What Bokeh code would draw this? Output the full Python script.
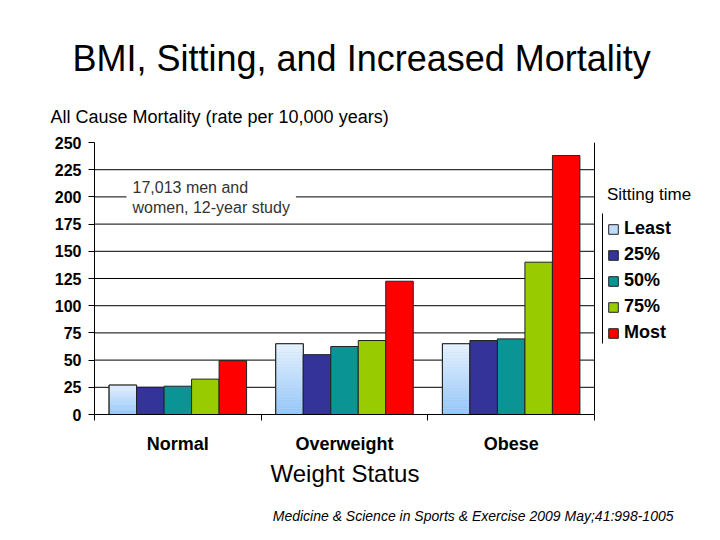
from bokeh.plotting import figure
from bokeh.models import (Range1d, FixedTicker, LinearAxis, Title, Legend, LegendItem,
                          Label, Span, ColumnDataSource)
from bokeh.embed import file_html
from bokeh.resources import INLINE

# ---- data ----
categories = ["Normal", "Overweight", "Obese"]
groups = ["Least", "25%", "50%", "75%", "Most"]
least = [27, 65, 65]
p25 = [25, 55, 68]
p50 = [26, 62.5, 69.5]
p75 = [32.5, 68, 140]
most = [49.5, 122.5, 238]
y_ticks = [0, 25, 50, 75, 100, 125, 150, 175, 200, 225, 250]
grid_ticks = [25, 50, 75, 100, 125, 150, 175, 200, 225]

series = [least, p25, p50, p75, most]
colors = ["#BFDDFB", "#333399", "#0B9494", "#99CC00", "#FF0000"]
grad_top = (0xE6, 0xF1, 0xFD)
grad_bot = (0x94, 0xC6, 0xF8)

FONT = "Liberation Sans"
bar_w = 0.165
ncat = len(categories)
cat_px = 500 / ncat           # pixel width of one category slot
frame_w = 720 - 94            # frame runs to the right edge so the legend fits inside it
y_px = 272 / 250              # pixels per y unit

p = figure(width=720, height=540, x_range=Range1d(0, frame_w / cat_px), y_range=Range1d(0, 250),
           output_backend="svg", toolbar_location=None,
           x_axis_type=None, y_axis_type=None,
           min_border_left=94, min_border_right=0, min_border_top=142, min_border_bottom=126)
p.outline_line_color = None
p.background_fill_color = "white"
p.border_fill_color = "white"

# horizontal gridlines limited to the category area
p.segment(x0=0, x1=ncat, y0=grid_ticks, y1=grid_ticks, line_color="black", line_width=1)
p.add_layout(Span(location=ncat, dimension="height", line_color="black", line_width=1))

# bars
renderers = []
for j, vals in enumerate(series):
    xs = [i + 0.5 + (j - 2) * bar_w for i in range(ncat)]
    src = ColumnDataSource(dict(x=xs, top=vals))
    r = p.vbar(x="x", top="top", bottom=0, width=bar_w, source=src,
               fill_color=colors[j], line_color="#222222", line_width=1)
    renderers.append(r)
    if j == 0:
        # vertical gradient fill for the "Least" series
        n = 24
        for k in range(n):
            t = k / (n - 1)
            c = tuple(int(round(grad_bot[m] + (grad_top[m] - grad_bot[m]) * t)) for m in range(3))
            col = "#%02x%02x%02x" % c
            seg = ColumnDataSource(dict(x=xs,
                                        b=[v * k / n for v in vals],
                                        t=[v * (k + 1) / n for v in vals]))
            p.vbar(x="x", bottom="b", top="t", width=bar_w - 0.004, source=seg,
                   fill_color=col, line_color=None)
        p.vbar(x="x", top="top", bottom=0, width=bar_w, source=src,
               fill_color=None, line_color="#222222", line_width=1)

# left axis
yax = LinearAxis(ticker=FixedTicker(ticks=y_ticks))
yax.major_label_text_font = FONT
yax.major_label_text_font_size = "16px"
yax.major_label_text_font_style = "bold"
yax.major_label_text_color = "black"
yax.major_tick_out = 6
yax.major_tick_in = 0
yax.minor_tick_out = 0
yax.minor_tick_in = 0
yax.major_label_standoff = 7
yax.axis_line_color = "black"
p.add_layout(yax, "left")

# bottom axis: category labels at centres, boundary ticks as minor ticks
cax = LinearAxis(ticker=FixedTicker(ticks=[i + 0.5 for i in range(ncat)],
                                    minor_ticks=list(range(ncat + 1))),
                 major_label_overrides={i + 0.5: c for i, c in enumerate(categories)},
                 bounds=(0, ncat))
cax.axis_line_color = "black"
cax.major_tick_out = 0
cax.major_tick_in = 0
cax.minor_tick_out = 6
cax.minor_tick_in = 0
cax.minor_tick_line_color = "black"
cax.major_label_standoff = 13
cax.major_label_text_font = FONT
cax.major_label_text_font_size = "18px"
cax.major_label_text_font_style = "bold"
cax.major_label_text_color = "black"
p.add_layout(cax, "below")

# x axis title, centred under the bars (left edge at x=270)
xlab = Title(text="Weight Status", align="left", offset=176, vertical_align="top",
             text_font=FONT, text_font_size="24px", text_font_style="normal",
             text_color="black", standoff=6)
p.add_layout(xlab, "below")

# citation (right edge at x=673)
cite = Title(text="Medicine & Science in Sports & Exercise 2009 May;41:998-1005",
             align="right", offset=47, text_font=FONT, text_font_size="14px",
             text_font_style="italic", text_color="black", standoff=28)
p.add_layout(cite, "below")

# y label (above) then main title
ylab = Title(text="All Cause Mortality (rate per 10,000 years)", align="left", offset=-44,
             text_font=FONT, text_font_size="18px", text_font_style="normal",
             text_color="black", standoff=32)
p.add_layout(ylab, "above")
main = Title(text="BMI, Sitting, and Increased Mortality", align="left", offset=-22,
             text_font=FONT, text_font_size="36px", text_font_style="normal",
             text_color="black", standoff=20)
p.add_layout(main, "above")

# annotation box
note = Label(x=0.192, y=199.5, text="17,013 men and\nwomen, 12-year study",
             text_font=FONT, text_font_size="16px", text_color="#333333",
             text_baseline="middle", text_line_height=1.15,
             background_fill_color="white", padding=6)
p.add_layout(note)

# legend inside the (extended) frame, right of the bars
legend = Legend(items=[LegendItem(label=g, renderers=[renderers[j]]) for j, g in enumerate(groups)],
                title="Sitting time", title_text_font=FONT, title_text_font_size="17px",
                title_text_font_style="normal", title_text_color="black", title_standoff=13,
                location=(513, 71), padding=6, spacing=5, label_height=20,
                glyph_width=12, glyph_height=12, label_standoff=5,
                label_text_font=FONT, label_text_font_size="18px",
                label_text_font_style="bold", label_text_color="black",
                border_line_color=None, background_fill_alpha=0, margin=0)
p.add_layout(legend)

# left edge line of the legend box
lx = ncat + 8 / cat_px
p.segment(x0=[lx], x1=[lx], y0=[(414 - 213) / y_px], y1=[(414 - 343) / y_px],
          line_color="black", line_width=1)

open("out.html", "w").write(file_html(p, INLINE))
